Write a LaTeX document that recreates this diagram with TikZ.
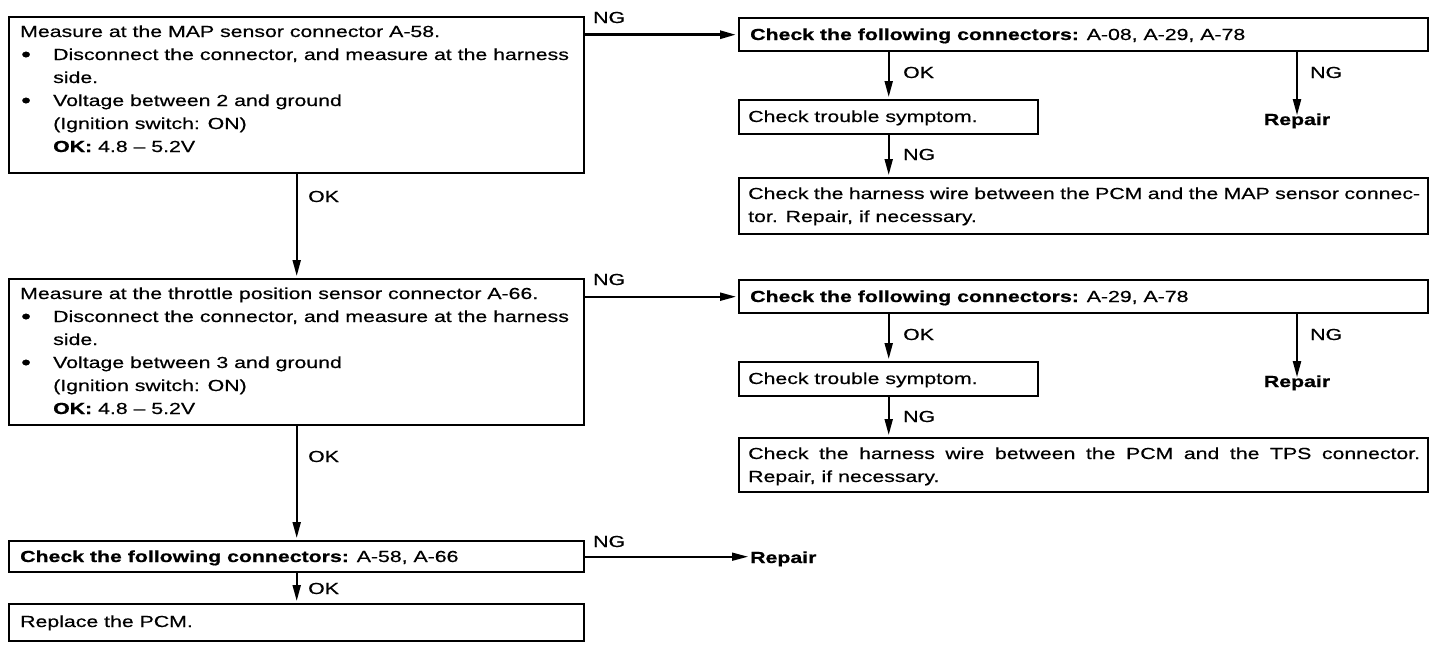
\documentclass[tikz,border=0pt]{standalone}
\usepackage{fontspec}
\setmainfont{Liberation Sans}[FakeStretch=1.33, UprightFeatures={FakeBold=0.5}, BoldFeatures={FakeBold=0.8}]
\usetikzlibrary{arrows.meta}
\newcommand{\bul}{\makebox[33pt][l]{\hspace{1pt}\raisebox{-1.5pt}{\fontsize{21}{23}\selectfont\textbullet}}}
\newcommand{\ind}{\hspace*{33pt}}
\begin{document}
\begin{tikzpicture}[x=1pt,y=-1pt,
  box/.style={draw, line width=2.4pt, rectangle, inner sep=0pt, anchor=north west},
  txt/.style={anchor=base west, inner sep=0pt, font=\fontsize{16}{23}\selectfont},
  lbl/.style={anchor=base west, inner sep=0pt, font=\fontsize{16}{20}\selectfont},
  rep/.style={anchor=base, inner sep=0pt, font=\fontsize{16}{20}\selectfont\bfseries},
  arr/.style={line width=2pt, -{Triangle[length=16pt,width=8pt]}, shorten >=2pt}
]
\useasboundingbox (0,0) rectangle (1440,656);

% left column boxes
\node[box, minimum width=575pt, minimum height=156pt] (b1) at (8,16) {};
\node[txt] (t1) at (20,37) {\parbox[t]{560pt}{\raggedright
Measure at the MAP sensor connector A-58.\\
\bul Disconnect the connector, and measure at the harness\\
\ind side.\\
\bul Voltage between 2 and ground\\
\ind (Ignition switch: ON)\\
\ind \textbf{OK:} 4.8 – 5.2V}};

\node[box, minimum width=575pt, minimum height=146pt] (b2) at (8,278) {};
\node[txt] (t2) at (20,299) {\parbox[t]{560pt}{\raggedright
Measure at the throttle position sensor connector A-66.\\
\bul Disconnect the connector, and measure at the harness\\
\ind side.\\
\bul Voltage between 3 and ground\\
\ind (Ignition switch: ON)\\
\ind \textbf{OK:} 4.8 – 5.2V}};

\node[box, minimum width=575pt, minimum height=31pt] (b3) at (8,540) {};
\node[txt] (t3) at (20,562) {\textbf{Check the following connectors:} A-58, A-66};

\node[box, minimum width=575pt, minimum height=37pt] (b4) at (8,603) {};
\node[txt] (t4) at (20,627) {Replace the PCM.};

% right group 1
\node[box, minimum width=689pt, minimum height=33pt] (r1) at (738,17) {};
\node[txt] (tr1) at (750,40) {\textbf{Check the following connectors:} A-08, A-29, A-78};
\node[box, minimum width=299pt, minimum height=34pt] (s1) at (738,99) {};
\node[txt] (ts1) at (748,122) {Check trouble symptom.};
\node[box, minimum width=689pt, minimum height=56pt] (h1) at (738,177) {};
\node[txt] (th1) at (748,199) {\parbox[t]{672pt}{%
\makebox[672pt][s]{Check the harness wire between the PCM and the MAP sensor connec-}\\
tor. Repair, if necessary.}};
\node[rep] (rep1) at (1297,125) {Repair};

% right group 2
\node[box, minimum width=689pt, minimum height=33pt] (r2) at (738,279) {};
\node[txt] (tr2) at (750,302) {\textbf{Check the following connectors:} A-29, A-78};
\node[box, minimum width=299pt, minimum height=34pt] (s2) at (738,361) {};
\node[txt] (ts2) at (748,384) {Check trouble symptom.};
\node[box, minimum width=689pt, minimum height=54pt] (h2) at (738,437) {};
\node[txt] (th2) at (748,459) {\parbox[t]{672pt}{%
\makebox[672pt][s]{Check the harness wire between the PCM and the TPS connector.}\\
Repair, if necessary.}};
\node[rep] (rep2) at (1297,387) {Repair};

\node[rep, anchor=base west] (rep3) at (750,563) {Repair};

% labels
\node[lbl] (ng1) at (593,23) {NG};
\node[lbl] (ok1) at (308,202) {OK};
\node[lbl] (ok1a) at (903,78) {OK};
\node[lbl] (ng1a) at (903,160) {NG};
\node[lbl] (ng1b) at (1310,78) {NG};
\node[lbl] (ng2) at (593,285) {NG};
\node[lbl] (ok2) at (308,462) {OK};
\node[lbl] (ok2a) at (903,340) {OK};
\node[lbl] (ng2a) at (903,422) {NG};
\node[lbl] (ng2b) at (1310,340) {NG};
\node[lbl] (ng3) at (593,547) {NG};
\node[lbl] (ok3) at (308,594) {OK};

% connectors
\draw[arr] (b1.south) -- (b2.north);
\draw[arr] (b2.south) -- (b3.north);
\draw[arr] (b3.south) -- (b4.north);
\draw[arr, line width=2.8pt] (b1.east |- r1.west) -- (r1.west);
\draw[arr] (b2.east |- r2.west) -- (r2.west);
\draw[arr, line width=1.6pt] (b3.east) -- (rep3.west |- b3.east);
\draw[arr] (s1.north |- r1.south) -- (s1.north);
\draw[arr] (s1.south) -- (h1.north -| s1.south);
\draw[arr] (rep1.north |- r1.south) -- ([yshift=-4pt]rep1.north);
\draw[arr] (s2.north |- r2.south) -- (s2.north);
\draw[arr] (s2.south) -- (h2.north -| s2.south);
\draw[arr] (rep2.north |- r2.south) -- ([yshift=-4pt]rep2.north);
\end{tikzpicture}
\end{document}
